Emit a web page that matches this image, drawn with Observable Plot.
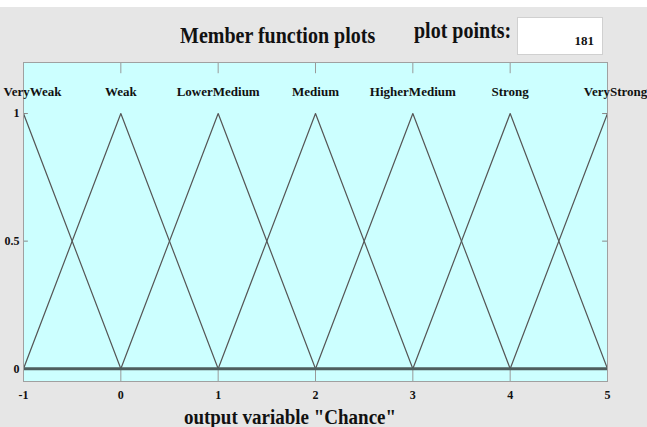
<!DOCTYPE html>
<html>
<head>
<meta charset="utf-8">
<script src="https://cdn.jsdelivr.net/npm/d3@7"></script>
<script src="https://cdn.jsdelivr.net/npm/@observablehq/plot@0.6"></script>
<style>
  html, body { margin: 0; padding: 0; }
  body { width: 647px; height: 427px; background: #e6e6e6; position: relative; overflow: hidden; font-family: "Liberation Serif", serif; }
  #topband { position: absolute; left: 0; top: 0; width: 647px; height: 7px; background: #fff; }
  #chart { position: absolute; left: 0; top: 0; }
  .lbl { position: absolute; font-weight: bold; color: #111; white-space: nowrap; line-height: 1; }
  #title { left: 180px; top: 25px; font-size: 20px; transform: scaleY(1.15); transform-origin: left center; }
  #pp { left: 414px; top: 20px; font-size: 20px; transform: scaleY(1.15); transform-origin: left center; }
  #ppbox { position: absolute; left: 517px; top: 17px; width: 86px; height: 38px; background: #fff; border: 1px solid #d0d0d0; box-sizing: border-box; }
  #ppval { position: absolute; right: 8px; top: 15px; font-size: 13px; font-weight: bold; color: #111; }
  #xlabel { left: 0; width: 580px; text-align: center; top: 407px; font-size: 19px; transform: scaleY(1.1); }
</style>
</head>
<body>
<div id="topband"></div>
<div id="chart"></div>
<div class="lbl" id="title">Member function plots</div>
<div class="lbl" id="pp">plot points:</div>
<div id="ppbox"><div id="ppval">181</div></div>
<div class="lbl" id="xlabel">output variable "Chance"</div>
<script>
// Membership function names and triangular parameters [a, b, c] (trimf)
const mfNames = ["VeryWeak", "Weak", "LowerMedium", "Medium", "HigherMedium", "Strong", "VeryStrong"];
const mfParams = [[-2, -1, 0], [-1, 0, 1], [0, 1, 2], [1, 2, 3], [2, 3, 4], [3, 4, 5], [4, 5, 6]];
const mfMembership = [0, 1, 0]; // membership values at a, b, c
const xTicks = [-1, 0, 1, 2, 3, 4, 5];
const yTicks = [0, 0.5, 1];
const xDomain = [-1, 5];
const yDomain = [-0.05, 1.2];
const plotPoints = 181;

const lineData = [];
mfNames.forEach((name, i) => {
  mfParams[i].forEach((px, j) => lineData.push({name, x: px, y: mfMembership[j]}));
});
const labelData = mfNames.map((name, i) => ({name, x: mfParams[i][1]}));
const innerLabels = labelData.filter((d, i) => i > 0 && i < mfNames.length - 1);

const chart = Plot.plot({
  width: 647,
  height: 427,
  marginLeft: 23,
  marginRight: 40,
  marginTop: 62,
  marginBottom: 46,
  x: {domain: xDomain},
  y: {domain: yDomain},
  style: {background: "transparent", fontFamily: "Liberation Serif, serif", color: "#111"},
  marks: [
    Plot.frame({fill: "#ccffff", stroke: "none"}),
    Plot.ruleX(xTicks.slice(1, -1), {x: d => d, y1: yDomain[1], y2: yDomain[1] - 0.044, stroke: "#999", strokeWidth: 1}),
    Plot.ruleX(xTicks.slice(1, -1), {x: d => d, y1: 0, y2: yDomain[0], stroke: "#999", strokeWidth: 1}),
    Plot.ruleY(yTicks.slice(1), {y: d => d, x1: xDomain[0], x2: xDomain[0] + 0.05, stroke: "#888", strokeWidth: 1}),
    Plot.ruleY(yTicks.slice(1), {y: d => d, x1: xDomain[1], x2: xDomain[1] - 0.05, stroke: "#888", strokeWidth: 1}),
    Plot.line(lineData, {x: "x", y: "y", z: "name", stroke: "#555", strokeWidth: 1.2, clip: true}),
    Plot.ruleY([0], {stroke: "#4e5e5e", strokeWidth: 3}),
    Plot.frame({stroke: "#a0a0a0", strokeWidth: 1}),
    Plot.text(innerLabels, {x: "x", text: "name", frameAnchor: "top", dy: 24, fontSize: 13, fontWeight: "bold", fill: "#111"}),
    Plot.text([labelData[0]], {x: "x", text: "name", frameAnchor: "top", dy: 24, dx: 9, fontSize: 13, fontWeight: "bold", fill: "#111"}),
    Plot.text([labelData[labelData.length - 1]], {x: "x", text: "name", frameAnchor: "top", dy: 24, dx: 8, fontSize: 13, fontWeight: "bold", fill: "#111"}),
    Plot.axisX({ticks: xTicks, tickSize: 0, tickPadding: 9, fontSize: 12, fontWeight: "bold", label: null, tickFormat: d => String(d)}),
    Plot.axisY({ticks: yTicks, tickSize: 0, tickPadding: 4, fontSize: 12, fontWeight: "bold", label: null, tickFormat: d => String(d)})
  ]
});
document.getElementById("chart").appendChild(chart);
document.getElementById("ppval").textContent = String(plotPoints);
</script>
</body>
</html>
